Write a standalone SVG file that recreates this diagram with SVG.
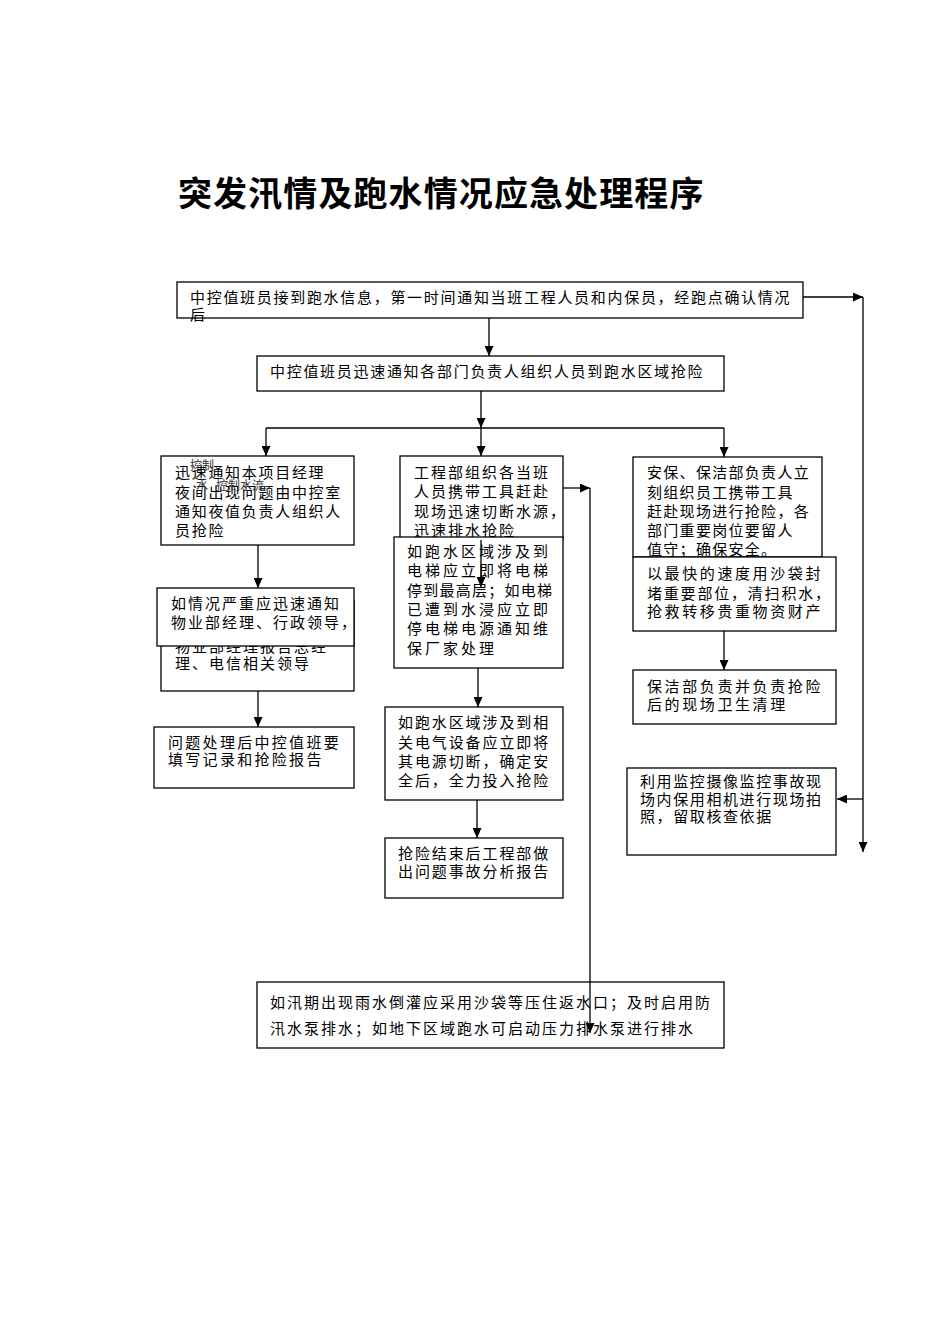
<svg xmlns="http://www.w3.org/2000/svg" width="950" height="1344" viewBox="0 0 950 1344">
<style>
.t{font-family:"Liberation Serif","Noto Sans CJK SC",serif;font-size:15px;fill:#000}
.b{fill:#fff;stroke:#000;stroke-width:1.3}
.c{stroke:#000;stroke-width:1.3;fill:none}
.title{font-family:"Liberation Serif","Noto Sans CJK SC",serif;font-size:34px;font-weight:bold;fill:#000;letter-spacing:1.1px}
.o{font-family:"Liberation Serif","Noto Sans CJK SC",serif;font-size:12px;fill:#333}
</style>
<defs>
<marker id="ah" markerUnits="userSpaceOnUse" markerWidth="10" markerHeight="9" refX="10" refY="4.5" orient="auto">
<path d="M0,0 L10,4.5 L0,9 z" fill="#000"/>
</marker>
</defs>
<rect x="0" y="0" width="950" height="1344" fill="#fff"/>
<text class="title" x="178" y="206">突发汛情及跑水情况应急处理程序</text>

<g id="n1">
<rect class="b" x="177" y="282" width="626" height="36"/>
<text class="t" x="190" y="303" style="letter-spacing:1.7px">中控值班员接到跑水信息，第一时间通知当班工程人员和内保员，经跑点确认情况</text>
<text class="t" x="190" y="320">后</text>
</g>
<g id="n2">
<rect class="b" x="257" y="356" width="467" height="35"/>
<text class="t" x="270" y="377" style="letter-spacing:1.7px">中控值班员迅速通知各部门负责人组织人员到跑水区域抢险</text>
</g>
<g id="nA">
<rect class="b" x="161" y="456" width="193" height="89"/>
<g class="t" style="letter-spacing:1.7px">
<text x="175" y="478">迅速通知本项目经理</text>
<text x="175" y="498">夜间出现问题由中控室</text>
<text x="175" y="517">通知夜值负责人组织人</text>
<text x="175" y="536">员抢险</text>
</g>
<text class="o" x="190" y="470">控制</text>
<text class="o" x="196" y="490">水</text>
<text class="o" x="216" y="490">控制水流</text>
</g>
<g id="nB2">
<rect class="b" x="161" y="600" width="193" height="91"/>
<g class="t" style="letter-spacing:2px">
<text x="175" y="652">物业部经理报告总经</text>
<text x="175" y="669">理、电信相关领导</text>
</g>
</g>
<g id="nB">
<rect class="b" x="157" y="588" width="197" height="58"/>
<g class="t" style="letter-spacing:2px">
<text x="171" y="609">如情况严重应迅速通知</text>
<text x="171" y="628">物业部经理、行政领导，</text>
</g>
</g>
<g id="nK">
<rect class="b" x="154" y="727" width="200" height="61"/>
<g class="t" style="letter-spacing:2.3px">
<text x="168" y="748">问题处理后中控值班要</text>
<text x="168" y="765">填写记录和抢险报告</text>
</g>
</g>
<g id="nC">
<rect class="b" x="400" y="456" width="163" height="84"/>
<g class="t" style="letter-spacing:2px">
<text x="414" y="478">工程部组织各当班</text>
<text x="414" y="497">人员携带工具赶赴</text>
<text x="414" y="517">现场迅速切断水源，</text>
<text x="414" y="536">迅速排水抢险</text>
</g>
</g>
<g id="nD">
<rect class="b" x="394" y="537" width="169" height="131"/>
<g class="t" style="letter-spacing:3px">
<text x="407" y="557">如跑水区域涉及到</text>
<text x="407" y="576">电梯应立即将电梯</text>
<text x="407" y="596" textLength="145" lengthAdjust="spacing" style="letter-spacing:0">停到最高层；如电梯</text>
<text x="407" y="615">已遭到水浸应立即</text>
<text x="407" y="634">停电梯电源通知维</text>
<text x="407" y="654">保厂家处理</text>
</g>
</g>
<g id="nE">
<rect class="b" x="385" y="707" width="178" height="93"/>
<g class="t" style="letter-spacing:1.9px">
<text x="398" y="728">如跑水区域涉及到相</text>
<text x="398" y="748">关电气设备应立即将</text>
<text x="398" y="767">其电源切断，确定安</text>
<text x="398" y="786">全后，全力投入抢险</text>
</g>
</g>
<g id="nF">
<rect class="b" x="385" y="838" width="178" height="60"/>
<g class="t" style="letter-spacing:1.9px">
<text x="398" y="859">抢险结束后工程部做</text>
<text x="398" y="877">出问题事故分析报告</text>
</g>
</g>
<g id="nG">
<rect class="b" x="633" y="457" width="189" height="100"/>
<g class="t" style="letter-spacing:1.3px">
<text x="647" y="478">安保、保洁部负责人立</text>
<text x="647" y="498">刻组织员工携带工具</text>
<text x="647" y="517">赶赴现场进行抢险，各</text>
<text x="647" y="536">部门重要岗位要留人</text>
<text x="647" y="555">值守；确保安全。</text>
</g>
</g>
<g id="nH">
<rect class="b" x="633" y="557" width="203" height="74"/>
<g class="t" style="letter-spacing:2.6px">
<text x="647" y="579">以最快的速度用沙袋封</text>
<text x="647" y="599" textLength="183" lengthAdjust="spacing" style="letter-spacing:0">堵重要部位，清扫积水，</text>
<text x="647" y="617">抢救转移贵重物资财产</text>
</g>
</g>
<g id="nJ">
<rect class="b" x="633" y="670" width="203" height="54"/>
<g class="t" style="letter-spacing:2.6px">
<text x="647" y="692">保洁部负责并负责抢险</text>
<text x="647" y="710">后的现场卫生清理</text>
</g>
</g>
<g id="nI">
<rect class="b" x="627" y="768" width="209" height="87"/>
<g class="t" style="letter-spacing:1.6px">
<text x="640" y="787">利用监控摄像监控事故现</text>
<text x="640" y="805">场内保用相机进行现场拍</text>
<text x="640" y="822">照，留取核查依据</text>
</g>
</g>
<g id="nL">
<rect class="b" x="257" y="982" width="467" height="66"/>
<g class="t" style="letter-spacing:2px">
<text x="270" y="1008">如汛期出现雨水倒灌应采用沙袋等压住返水口；及时启用防</text>
<text x="270" y="1034">汛水泵排水；如地下区域跑水可启动压力排水泵进行排水</text>
</g>
</g>

<g id="connectors">
<line class="c" x1="489" y1="318" x2="489" y2="356" marker-end="url(#ah)"/>
<line class="c" x1="481" y1="391" x2="481" y2="428" marker-end="url(#ah)"/>
<line class="c" x1="266" y1="428" x2="724" y2="428"/>
<line class="c" x1="266" y1="428" x2="266" y2="456" marker-end="url(#ah)"/>
<line class="c" x1="481" y1="428" x2="481" y2="456" marker-end="url(#ah)"/>
<line class="c" x1="724" y1="428" x2="724" y2="457" marker-end="url(#ah)"/>
<line class="c" x1="258" y1="545" x2="258" y2="588" marker-end="url(#ah)"/>
<line class="c" x1="258" y1="691" x2="258" y2="727" marker-end="url(#ah)"/>
<line class="c" x1="481" y1="540" x2="481" y2="587" marker-end="url(#ah)"/>
<line class="c" x1="478" y1="668" x2="478" y2="707" marker-end="url(#ah)"/>
<line class="c" x1="477" y1="800" x2="477" y2="838" marker-end="url(#ah)"/>
<line class="c" x1="563" y1="488" x2="590" y2="488" marker-end="url(#ah)"/>
<line class="c" x1="590" y1="488" x2="590" y2="1033" marker-end="url(#ah)"/>
<line class="c" x1="724" y1="631" x2="724" y2="670" marker-end="url(#ah)"/>
<line class="c" x1="803" y1="297" x2="863" y2="297" marker-end="url(#ah)"/>
<line class="c" x1="863" y1="297" x2="863" y2="852" marker-end="url(#ah)"/>
<line class="c" x1="863" y1="799" x2="837" y2="799" marker-end="url(#ah)"/>
</g>
</svg>
